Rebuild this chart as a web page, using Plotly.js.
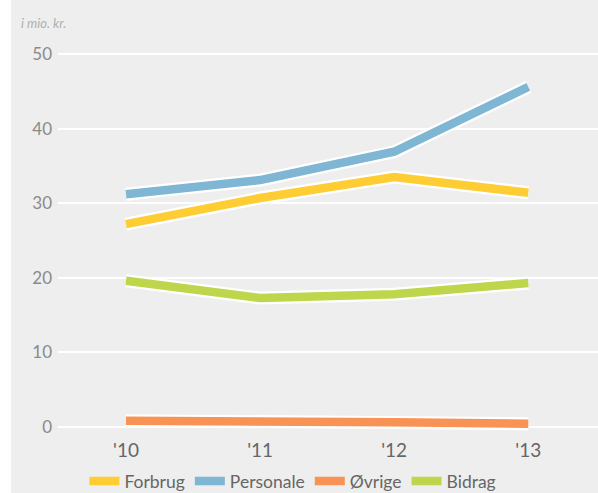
<!DOCTYPE html>
<html><head><meta charset="utf-8">
<script src="https://cdn.plot.ly/plotly-3.0.1.min.js"></script>
<style>html,body{margin:0;padding:0;background:#fff;}#chart{position:absolute;left:11px;top:0;width:587px;height:493px;}</style>
</head><body><div id="chart"></div>
<script>
const years = ["'10", "'11", "'12", "'13"];
const forbrug = [27.2, 30.7, 33.5, 31.4];
const personale = [31.2, 33.1, 36.9, 45.6];
const oevrige = [0.85, 0.85, 0.65, 0.45];
const bidrag = [19.6, 17.3, 17.8, 19.3];
const names = ["Forbrug", "Personale", "Øvrige", "Bidrag"];
const colors = ["#fecd34", "#7eb6d3", "#f99255", "#bdd64b"];
const series = [forbrug, personale, oevrige, bidrag];

const traces = [];
series.forEach((s, i) => {
  traces.push({x: years, y: s, type: 'scatter', mode: 'lines', line: {color: '#ffffff', width: 13}, showlegend: false, hoverinfo: 'skip'});
  traces.push({x: years, y: s, type: 'scatter', mode: 'lines', name: names[i], line: {color: colors[i], width: 8.5}});
});

const font = "Lato, 'Open Sans', sans-serif";
const layout = {
  width: 587, height: 493,
  margin: {l: 47, r: 0, t: 40, b: 56},
  paper_bgcolor: '#eeeeee', plot_bgcolor: '#eeeeee',
  showlegend: true,
  hovermode: false,
  font: {family: font, color: '#777777'},
  xaxis: {type: 'category', range: [-0.507, 3.52], showgrid: false, zeroline: false, showline: false,
          ticks: '', tickfont: {size: 19, color: '#666666'}, automargin: false},
  yaxis: {range: [-1.34, 51.88], tickvals: [0, 10, 20, 30, 40, 50], showgrid: true, gridcolor: '#ffffff', gridwidth: 2,
          zeroline: false, showline: false, ticks: '', ticklabelstandoff: 5, tickfont: {size: 17, color: '#8a8a8a'}, automargin: false},
  legend: {orientation: 'h', xref: 'container', yref: 'container', x: 0.125, xanchor: 'left', y: 0.024, yanchor: 'middle',
           bgcolor: 'rgba(0,0,0,0)', font: {size: 17.5, color: '#666666'}, traceorder: 'normal'},
  annotations: [{text: 'i mio. kr.', xref: 'paper', yref: 'paper', x: -0.072, y: 1.043, xanchor: 'left', yanchor: 'middle',
                 showarrow: false, font: {size: 13, color: '#b0b0b0', family: font, style: 'italic'}}]
};
Plotly.newPlot('chart', traces, layout, {displayModeBar: false, staticPlot: true});
</script></body></html>
